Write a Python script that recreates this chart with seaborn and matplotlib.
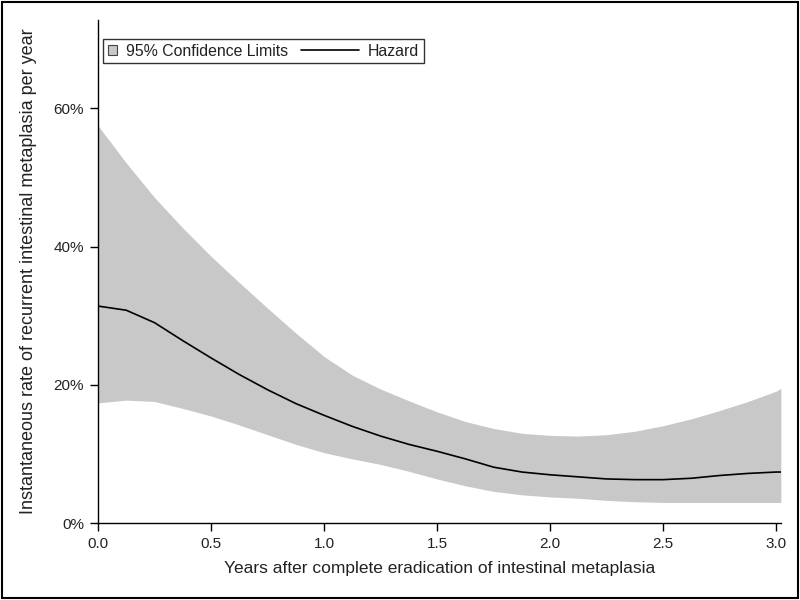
import numpy as np
import pandas as pd
import matplotlib
matplotlib.use('Agg')
import matplotlib.pyplot as plt
import matplotlib.patches as mpatches
from matplotlib.lines import Line2D
from matplotlib.legend_handler import HandlerBase
from matplotlib.ticker import PercentFormatter
import seaborn as sns

# values (years, proportion per year)
years = [0.0, 0.125, 0.25, 0.375, 0.5, 0.625, 0.75, 0.875, 1.0, 1.125, 1.25, 1.375, 1.5,
         1.625, 1.75, 1.875, 2.0, 2.125, 2.25, 2.375, 2.5, 2.625, 2.75, 2.875, 3.0, 3.02]
hazard = [0.314, 0.308, 0.290, 0.264, 0.239, 0.215, 0.193, 0.173, 0.156, 0.140, 0.126, 0.114, 0.104,
          0.093, 0.081, 0.074, 0.070, 0.067, 0.064, 0.063, 0.063, 0.065, 0.069, 0.072, 0.074, 0.074]
upper = [0.575, 0.521, 0.471, 0.427, 0.386, 0.348, 0.311, 0.275, 0.241, 0.214, 0.194, 0.177, 0.161,
         0.147, 0.137, 0.130, 0.127, 0.126, 0.128, 0.133, 0.141, 0.151, 0.163, 0.176, 0.191, 0.195]
lower = [0.174, 0.178, 0.176, 0.166, 0.155, 0.142, 0.128, 0.114, 0.102, 0.093, 0.085, 0.075, 0.064,
         0.054, 0.046, 0.041, 0.038, 0.036, 0.033, 0.031, 0.030, 0.030, 0.030, 0.030, 0.030, 0.030]
x_ticks = [0.0, 0.5, 1.0, 1.5, 2.0, 2.5, 3.0]
y_ticks = [0.0, 0.2, 0.4, 0.6]

df = pd.DataFrame({'Years': years, 'Hazard': hazard, 'Upper': upper, 'Lower': lower})

sns.set_style('ticks')
plt.rcParams['font.family'] = ['Liberation Sans', 'DejaVu Sans']

fig = plt.figure(figsize=(8, 6), dpi=100)
ax = fig.add_axes([0.1225, 0.128, 0.8535, 0.839])

band_color = '#c8c8c8'
ax.fill_between(df['Years'], df['Lower'], df['Upper'], color=band_color, linewidth=0, zorder=1)
sns.lineplot(data=df, x='Years', y='Hazard', ax=ax, color='black', linewidth=1.2, zorder=2)

ax.set_xlim(0, 3.02)
ax.set_ylim(0, 0.728)
ax.set_xticks(x_ticks)
ax.set_xticklabels(['%.1f' % t for t in x_ticks])
ax.set_yticks(y_ticks)
ax.yaxis.set_major_formatter(PercentFormatter(1.0, decimals=0))
ax.tick_params(axis='both', labelsize=11, length=6, width=1, color='black', labelcolor='#222222', pad=4)
ax.set_xlabel('Years after complete eradication of intestinal metaplasia', fontsize=12.5, labelpad=7, color='#222222')
ax.set_ylabel('Instantaneous rate of recurrent intestinal metaplasia per year', fontsize=13, labelpad=12, color='#222222')
sns.despine(ax=ax)
for s in ['left', 'bottom']:
    ax.spines[s].set_color('black')
    ax.spines[s].set_linewidth(1.0)


# long line handle stretching into the column gap
class LongLine(HandlerBase):
    def create_artists(self, legend, orig_handle, xdescent, ydescent, width, height, fontsize, trans):
        y = height / 2 - ydescent
        ln = Line2D([-xdescent - 3.1 * fontsize, -xdescent + width], [y, y],
                    color='black', linewidth=1.2, transform=trans)
        return [ln]


ci_patch = mpatches.Patch(facecolor=band_color, edgecolor='#444444', linewidth=0.8, label='95% Confidence Limits')
hz_line = Line2D([], [], color='black', linewidth=1.2, label='Hazard')
leg = ax.legend(handles=[ci_patch, hz_line], handler_map={Line2D: LongLine()},
                loc='upper left', bbox_to_anchor=(0.007, 0.962), ncol=2, fontsize=11.4,
                handlelength=0.6, handleheight=0.6, handletextpad=0.55, columnspacing=3.9,
                borderpad=0.3, borderaxespad=0, frameon=True, fancybox=False)
leg.get_frame().set_edgecolor('black')
leg.get_frame().set_linewidth(1.0)
for t in leg.get_texts():
    t.set_color('#222222')

# outer border around the whole picture
fig.patches.append(mpatches.Rectangle((0.003, 0.004), 0.994, 0.992, transform=fig.transFigure,
                                      fill=False, edgecolor='black', linewidth=1.5))

fig.savefig('out.png', dpi=100)
